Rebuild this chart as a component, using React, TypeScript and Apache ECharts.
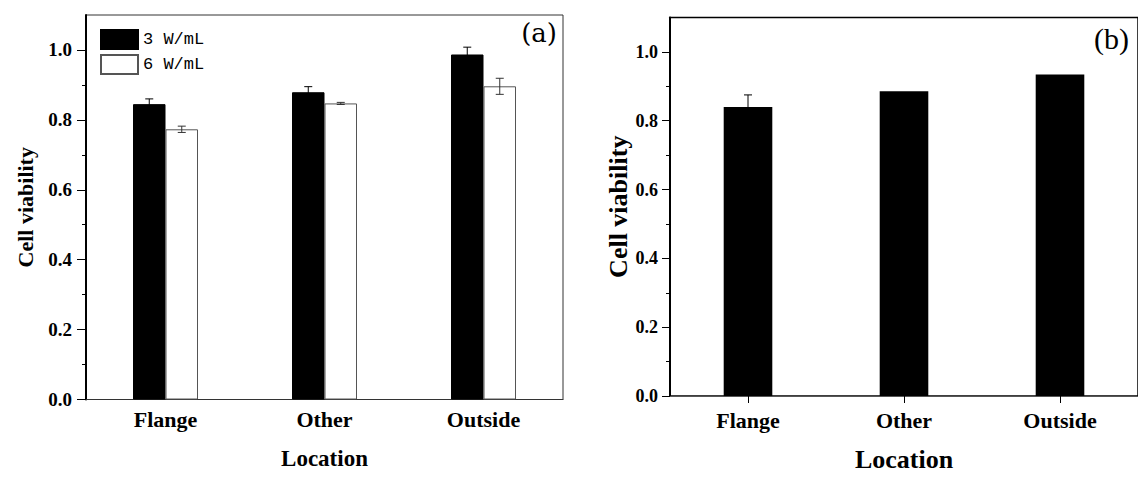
import React, { useEffect, useRef } from "react";
import * as echarts from "echarts";

const categories = ["Flange", "Other", "Outside"];
const seriesNamesA = ["3 W/mL", "6 W/mL"];
const valuesA3 = [0.845, 0.879, 0.987];
const errorsA3 = [0.015, 0.016, 0.021];
const valuesA6 = [0.773, 0.847, 0.896];
const errorsA6 = [0.009, 0.003, 0.023];
const valuesB = [0.84, 0.886, 0.934];
const errorsB = [0.035, 0, 0];
const majorTicks = [0, 0.2, 0.4, 0.6, 0.8, 1.0];
const minorTicks = [0.1, 0.3, 0.5, 0.7, 0.9];
const yMax = 1.1;
const yInterval = 0.2;

const SERIF = "'Liberation Serif', 'Times New Roman', serif";
const MONO = "'Liberation Mono', 'Courier New', monospace";

function errorSeries(name: string, values: number[], errors: number[], offset: number, capHalf: number, color: string) {
  return {
    name,
    type: "custom",
    z: 5,
    data: values.map((v, i) => [i, v, errors[i]]),
    encode: { x: 0, y: 1 },
    renderItem: (params: any, api: any) => {
      const i = api.value(0);
      const v = api.value(1);
      const e = api.value(2);
      if (!e) return null;
      const top = api.coord([i, v + e]);
      const bot = api.coord([i, v - e]);
      const x = top[0] + offset;
      const style = { stroke: color, lineWidth: 1 };
      return {
        type: "group",
        children: [
          { type: "line", shape: { x1: x, y1: top[1], x2: x, y2: bot[1] }, style },
          { type: "line", shape: { x1: x - capHalf, y1: top[1], x2: x + capHalf, y2: top[1] }, style },
          { type: "line", shape: { x1: x - capHalf, y1: bot[1], x2: x + capHalf, y2: bot[1] }, style },
        ],
      };
    },
  };
}

function yAxes(fontSize: number, margin: number, nameSize: number, nameGap: number, tickLen: number) {
  return [
    {
      type: "value",
      gridIndex: 0,
      position: "left",
      min: 0,
      max: yMax,
      interval: yInterval,
      name: "Cell viability",
      nameLocation: "middle",
      nameGap,
      nameTextStyle: { fontFamily: SERIF, fontWeight: "bold", fontSize: nameSize, color: "#000" },
      axisLine: { show: true, lineStyle: { color: "#000", width: 2 } },
      axisTick: { show: true, length: tickLen, customValues: majorTicks, lineStyle: { color: "#000" } },
      axisLabel: {
        margin,
        fontFamily: SERIF,
        fontWeight: "bold",
        fontSize,
        color: "#000",
        showMaxLabel: false,
        formatter: (v: number) => (v > 1.05 ? "" : v.toFixed(1)),
      },
      splitLine: { show: false },
    },
    {
      type: "value",
      gridIndex: 0,
      position: "left",
      min: 0,
      max: yMax,
      axisLine: { show: false },
      axisTick: { show: true, length: 4, customValues: minorTicks, lineStyle: { color: "#000" } },
      axisLabel: { show: false },
      splitLine: { show: false },
    },
  ];
}

export default function App() {
  const refA = useRef<HTMLDivElement>(null);
  const refB = useRef<HTMLDivElement>(null);
  useEffect(() => {
    if (!refA.current || !refB.current) return;
    const chartA = echarts.init(refA.current, undefined, { renderer: "svg" });
    const chartB = echarts.init(refB.current, undefined, { renderer: "svg" });

    const optionA: any = {
      animation: false,
      grid: [{ left: 86, top: 15, width: 477, height: 384.5, show: true, borderColor: "#333", borderWidth: 1 }],
      legend: {
        data: seriesNamesA,
        orient: "vertical",
        left: 95,
        top: 24,
        itemWidth: 37,
        itemHeight: 19,
        itemGap: 4,
        icon: "rect",
        textStyle: { fontFamily: MONO, fontSize: 17, color: "#000" },
      },
      xAxis: [
        {
          type: "category",
          data: categories,
          name: "Location",
          nameLocation: "middle",
          nameGap: 47,
          nameTextStyle: { fontFamily: SERIF, fontWeight: "bold", fontSize: 23, color: "#000" },
          axisLine: { show: true, lineStyle: { color: "#333", width: 1 } },
          axisTick: { show: false },
          axisLabel: { margin: 9, fontFamily: SERIF, fontWeight: "bold", fontSize: 22, color: "#000" },
        },
      ],
      yAxis: yAxes(19, 14, 22, 50, 9),
      series: [
        {
          name: seriesNamesA[0],
          type: "bar",
          data: valuesA3,
          barWidth: 32.5,
          barGap: "0%",
          itemStyle: { color: "#000", borderColor: "#000", borderWidth: 1 },
        },
        {
          name: seriesNamesA[1],
          type: "bar",
          data: valuesA6,
          barWidth: 32.5,
          barGap: "0%",
          itemStyle: { color: "#fff", borderColor: "#555", borderWidth: 1 },
        },
        errorSeries("errA3", valuesA3, errorsA3, -16.25, 4, "#000"),
        errorSeries("errA6", valuesA6, errorsA6, 16.25, 4, "#333"),
      ],
      graphic: [
        {
          type: "text",
          right: 1138 - 557,
          top: 20,
          style: { text: "(a)", fontFamily: "'DejaVu Serif', serif", fontSize: 26, fill: "#000" },
        },
      ],
    };

    const optionB: any = {
      animation: false,
      grid: [{ left: 670, top: 17.5, width: 478.5, height: 385.2, show: true, borderColor: "#000", borderWidth: 1.5 }],
      xAxis: [
        {
          type: "category",
          data: categories,
          name: "Location",
          nameLocation: "middle",
          nameGap: 50,
          nameTextStyle: { fontFamily: SERIF, fontWeight: "bold", fontSize: 26, color: "#000" },
          axisLine: { show: true, lineStyle: { color: "#555", width: 1 } },
          axisTick: { show: true, alignWithLabel: true, length: 7, lineStyle: { color: "#000" } },
          axisLabel: { margin: 13, fontFamily: SERIF, fontWeight: "bold", fontSize: 22, color: "#000" },
        },
      ],
      yAxis: yAxes(18, 12, 26, 39, 8),
      series: [
        {
          name: "B",
          type: "bar",
          data: valuesB,
          barWidth: 48.6,
          itemStyle: { color: "#000" },
        },
        errorSeries("errB", valuesB, errorsB, 0, 4, "#000"),
      ],
      graphic: [
        {
          type: "text",
          right: 1138 - 1129,
          top: 23,
          style: { text: "(b)", fontFamily: SERIF, fontSize: 30, fill: "#000" },
        },
      ],
    };

    chartA.setOption(optionA);
    chartB.setOption(optionB);
    return () => {
      chartA.dispose();
      chartB.dispose();
    };
  }, []);
  return (
    <div style={{ position: "fixed", left: 0, top: 0, width: 1138, height: 477, background: "#fff" }}>
      <div ref={refA} style={{ position: "absolute", left: 0, top: 0, width: 1138, height: 477 }} />
      <div ref={refB} style={{ position: "absolute", left: 0, top: 0, width: 1138, height: 477 }} />
    </div>
  );
}
